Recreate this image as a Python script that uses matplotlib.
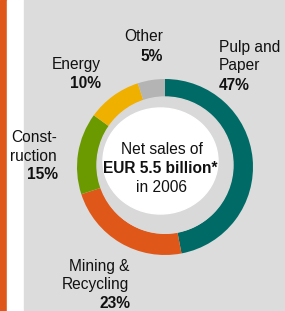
import matplotlib
matplotlib.use('agg')
import matplotlib.pyplot as plt
from matplotlib.patches import Rectangle, Circle, Ellipse

# segment shares, clockwise from the top
segments = ['Pulp and Paper', 'Mining & Recycling', 'Construction', 'Energy', 'Other']
shares = [47, 23, 15, 10, 5]
colors = ['#006b66', '#e05819', '#6b9a00', '#f0b000', '#b4b4b4']

W, H = 285, 311
plt.rcParams['font.family'] = ['Liberation Sans', 'DejaVu Sans']
FS = 11.2

fig = plt.figure(figsize=(W / 100, H / 100), dpi=100)
ax = fig.add_axes([0, 0, 1, 1])
ax.axis('off')

# side strips and background
ax.add_patch(Rectangle((0, 0), 7, H, color='#e05819', zorder=0))
ax.add_patch(Rectangle((7, 0), 17, H, color='white', zorder=0))
ax.add_patch(Rectangle((24, 0), W - 24, H, color='#dcdcdc', zorder=0))

cx, cy = 165, H - 167
ax.pie(shares, colors=colors, startangle=90, counterclock=False,
       radius=88, center=(cx, cy), wedgeprops=dict(width=21, linewidth=0))
ax.add_patch(Circle((165, H - 165), 68, color='#d9d9d9', zorder=3))
ax.add_patch(Ellipse((160.5, H - 161), 115, 106, color='white', zorder=4))

ax.set_xlim(0, W)
ax.set_ylim(0, H)
ax.set_aspect('auto')


def txt(x, y, s, ha, bold=False):
    ax.text(x, H - y, s, ha=ha, va='baseline', fontsize=FS,
            fontweight='bold' if bold else 'normal', color='#111111', zorder=5)


txt(163, 41, 'Other', 'right')
txt(163, 60.7, '5%', 'right', True)
txt(219, 51.7, 'Pulp and', 'left')
txt(219, 70, 'Paper', 'left')
txt(219, 90, '47%', 'left', True)
txt(101, 69.3, 'Energy', 'right')
txt(101, 88.3, '10%', 'right', True)
txt(57, 141.7, 'Const-', 'right')
txt(57, 160.7, 'ruction', 'right')
txt(58, 179.3, '15%', 'right', True)
txt(129, 270.7, 'Mining &', 'right')
txt(129, 289, 'Recycling', 'right')
txt(130, 308.3, '23%', 'right', True)

txt(162, 154, 'Net sales of', 'center')
txt(160, 173.3, 'EUR 5.5 billion*', 'center', True)
txt(161.5, 191.7, 'in 2006', 'center')

fig.savefig('out.png', dpi=100)
